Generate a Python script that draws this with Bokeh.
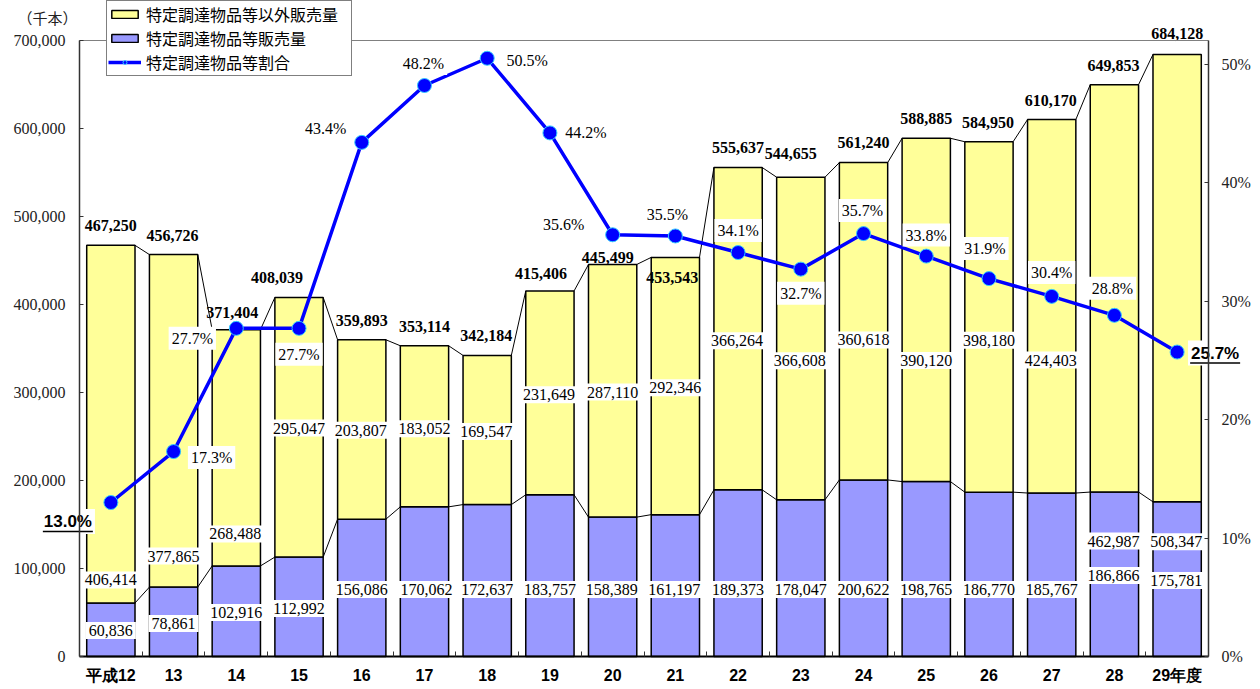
from bokeh.plotting import figure
from bokeh.models import (ColumnDataSource, Range1d, LinearAxis, FixedTicker, Legend, LegendItem,
                          NumeralTickFormatter, PrintfTickFormatter)
from bokeh.core.properties import value
from bokeh.embed import file_html
from bokeh.resources import INLINE

# ---------------- data ----------------
categories = ["平成12", "13", "14", "15", "16", "17", "18", "19", "20", "21",
              "22", "23", "24", "25", "26", "27", "28", "29年度"]
other_sales = [406414, 377865, 268488, 295047, 203807, 183052, 169547, 231649, 287110,
               292346, 366264, 366608, 360618, 390120, 398180, 424403, 462987, 508347]
target_sales = [60836, 78861, 102916, 112992, 156086, 170062, 172637, 183757, 158389,
                161197, 189373, 178047, 200622, 198765, 186770, 185767, 186866, 175781]
totals = [467250, 456726, 371404, 408039, 359893, 353114, 342184, 415406, 445499,
          453543, 555637, 544655, 561240, 588885, 584950, 610170, 649853, 684128]
share_pct = [13.0, 17.3, 27.7, 27.7, 43.4, 48.2, 50.5, 44.2, 35.6, 35.5,
             34.1, 32.7, 35.7, 33.8, 31.9, 30.4, 28.8, 25.7]
left_ticks = [0, 100000, 200000, 300000, 400000, 500000, 600000, 700000]
right_ticks = [0, 10, 20, 30, 40, 50]
unit_label = "（千本）"
legend_labels = ["特定調達物品等以外販売量", "特定調達物品等販売量", "特定調達物品等割合"]

# ---------------- label placement (screen px offsets, up = positive) ----------------
tot_dx = [0, -1, -4, -22, 0, 0, -1, -9, -5, -3, 0, -10, 0, 0, -1, -1, -1, 0]
tot_dy = [20, 19, 17, 20, 19, 19, 20, 17, 7, -20, 20, 24, 20, 20, 19, 19, 19, 21]
oth_dx = [0, 0, -1, 0, -1, 0, -1, -1, 0, 0, -1, -1, 0, 0, 0, -1, -1, -1]
oth_dy = [23, 31, 32, 129, 89, 78, 73, 100, 125, 127, 149, 139, 140, 121, 152, 133, -49, -40]
tgt_dx = [0, 0, 0, 0, 0, 2, 0, 0, -1, -1, 0, 0, 0, 0, 0, 0, -1, -1]
tgt_dy = [26, 33, 44, 48, 67, 67, 67, 67, 67, 67, 67, 67, 67, 67, 67, 67, 81, 76]
pct_dx = [-43, 38, -44, 0, -36, -1, 40, 36, -49, -8, 0, 0, -1, 0, -4, 0, -2, 38]
pct_dy = [-19, -6, -10, -26, 14, 22, -2, 0, 10, 21, 22, -24, 23, 21, 30, 24, 27, -1]

YELLOW = "#FFFF99"
BLUE = "#9999FF"
LINE = "#0000FF"
W = 0.77
N = len(categories)
xs = list(range(N))

# ---------------- layout geometry (pixels) ----------------
CW, CH = 1260, 689
FL, FR, FT, FB = 79, 1208, 40, 656          # plot-area edges inside the canvas
LMAX = left_ticks[-1]
PMAX = 52.0
px_x = (FR - FL) / N                        # px per category
px_y = (FB - FT) / LMAX                     # px per unit (left)
px_p = (FB - FT) / PMAX                     # px per percent (right)
x_lo = -0.5 - FL / px_x
x_hi = N - 0.5 + (CW - FR) / px_x
y_lo = -(CH - FB) / px_y
y_hi = LMAX + FT / px_y
p_lo = -(CH - FB) / px_p
p_hi = PMAX + FT / px_p

fmt = lambda v: f"{v:,}"
neg = lambda a: [-v for v in a]

src = ColumnDataSource(dict(
    x=xs, other=other_sales, target=target_sales, total=totals, pct=share_pct,
    zero=[0] * N,
    tot_txt=[fmt(v) for v in totals], oth_txt=[fmt(v) for v in other_sales],
    tgt_txt=[fmt(v) for v in target_sales], pct_txt=[f"{v:.1f}%" for v in share_pct],
    tot_dx=tot_dx, tot_dy=neg(tot_dy), oth_dx=oth_dx, oth_dy=neg(oth_dy),
    tgt_dx=tgt_dx, tgt_dy=neg(tgt_dy), pct_dx=pct_dx, pct_dy=neg(pct_dy),
))

p = figure(width=CW, height=CH, output_backend="svg", toolbar_location=None,
           x_range=Range1d(x_lo, x_hi), y_range=Range1d(y_lo, y_hi),
           x_axis_location=None, y_axis_location=None,
           min_border=0, min_border_left=0, min_border_right=0,
           min_border_top=0, min_border_bottom=0)
p.title.visible = False
p.extra_y_ranges = {"pct": Range1d(p_lo, p_hi)}
p.xgrid.visible = False
p.ygrid.visible = False
p.outline_line_color = None
p.background_fill_color = "white"
p.border_fill_color = "white"

SERIF = "Liberation Serif"
SANS = "Liberation Sans"
CJK = "Noto Sans CJK JP"

# top frame line (an unlabeled axis)
ta = LinearAxis(fixed_location=LMAX, bounds=(-0.5, N - 0.5), ticker=FixedTicker(ticks=[]))
ta.axis_line_color = "#808080"
ta.axis_line_width = 1
ta.major_tick_line_color = None
ta.minor_tick_line_color = None
ta.major_label_text_font_size = "0px"
p.add_layout(ta, "above")

# left axis
ya = LinearAxis(fixed_location=-0.5, bounds=(0, LMAX), ticker=FixedTicker(ticks=left_ticks),
                formatter=NumeralTickFormatter(format="0,0"))
ya.major_tick_in = 4
ya.major_tick_out = 0
ya.minor_tick_line_color = None
ya.axis_line_color = "#333333"
ya.axis_line_width = 1.5
ya.major_tick_line_color = "#333333"
ya.major_label_text_font = SERIF
ya.major_label_text_font_size = "16px"
ya.major_label_text_color = "#222222"
ya.major_label_standoff = 14
p.add_layout(ya, "left")

# right axis
ra = LinearAxis(y_range_name="pct", fixed_location=N - 0.5, bounds=(0, PMAX),
                ticker=FixedTicker(ticks=right_ticks), formatter=PrintfTickFormatter(format="%d%%"))
ra.major_tick_in = 4
ra.major_tick_out = 0
ra.minor_tick_line_color = None
ra.axis_line_color = "#333333"
ra.axis_line_width = 1.5
ra.major_tick_line_color = "#333333"
ra.major_label_text_font = SERIF
ra.major_label_text_font_size = "16px"
ra.major_label_text_color = "#222222"
ra.major_label_standoff = 13
p.add_layout(ra, "right")

# bottom axis
xa = LinearAxis(fixed_location=0, bounds=(-0.5, N - 0.5),
                ticker=FixedTicker(ticks=xs, minor_ticks=[i + 0.5 for i in range(N - 1)]))
xa.major_label_overrides = {i: c for i, c in enumerate(categories)}
xa.major_tick_in = 0
xa.major_tick_out = 0
xa.minor_tick_in = 5
xa.minor_tick_out = 0
xa.minor_tick_line_color = "#333333"
xa.axis_line_color = "black"
xa.axis_line_width = 2
xa.major_label_text_font = SANS
xa.major_label_text_font_style = "bold"
xa.major_label_text_font_size = "16px"
xa.major_label_text_color = "black"
xa.major_label_standoff = 10
p.add_layout(xa, "below")

# bars
bars = p.vbar_stack(["target", "other"], x="x", width=W, color=[BLUE, YELLOW],
                    line_color="black", line_width=1.5, source=src)

# connector lines between bars
cx0 = [i + W / 2 for i in xs[:-1]]
cx1 = [i + 1 - W / 2 for i in xs[:-1]]
p.segment(x0=cx0, y0=totals[:-1], x1=cx1, y1=totals[1:], line_color="black", line_width=1)
p.segment(x0=cx0, y0=target_sales[:-1], x1=cx1, y1=target_sales[1:], line_color="black", line_width=1)

# share line
ln = p.line("x", "pct", source=src, y_range_name="pct", line_color=LINE, line_width=3.5)
sc = p.scatter("x", "pct", source=src, y_range_name="pct", size=14, fill_color=LINE,
               line_color="#33CCFF", line_width=1)

# value labels
common = dict(source=src, text_align="center", text_baseline="middle",
              text_color="black", text_font=value(SERIF), text_font_size="16px")
p.text(x="x", y="target", text="oth_txt", x_offset="oth_dx", y_offset="oth_dy",
       background_fill_color="white", padding=3, **common)
p.text(x="x", y="zero", text="tgt_txt", x_offset="tgt_dx", y_offset="tgt_dy",
       background_fill_color="white", padding=3, **common)
p.text(x="x", y="total", text="tot_txt", x_offset="tot_dx", y_offset="tot_dy",
       text_font_style="bold", **common)

mid = list(range(1, N - 1))
psrc = ColumnDataSource({k: [src.data[k][i] for i in mid]
                         for k in ["x", "pct", "pct_txt", "pct_dx", "pct_dy"]})
p.text(x="x", y="pct", text="pct_txt", x_offset="pct_dx", y_offset="pct_dy",
       y_range_name="pct", source=psrc, text_align="center", text_baseline="middle",
       text_color="black", text_font=value(SERIF), text_font_size="16px",
       background_fill_color="white", padding=3)

# emphasised first / last share labels (bold, underlined)
ends = [0, N - 1]
esrc = ColumnDataSource(dict(
    x=[xs[i] for i in ends], pct=[share_pct[i] for i in ends],
    txt=[f"{share_pct[i]:.1f}%" for i in ends],
    dx=[pct_dx[i] for i in ends], dy=[-pct_dy[i] for i in ends],
    ux0=[xs[i] + (pct_dx[i] - 25) / px_x for i in ends],
    ux1=[xs[i] + (pct_dx[i] + 25) / px_x for i in ends],
    uy=[share_pct[i] + (pct_dy[i] - 10) / px_p for i in ends],
))
p.text(x="x", y="pct", text="txt", x_offset="dx", y_offset="dy", y_range_name="pct",
       source=esrc, text_align="center", text_baseline="middle", text_color="black",
       text_font=value(SANS), text_font_style="bold", text_font_size="17px",
       background_fill_color="white", padding=3)
p.segment(x0="ux0", y0="uy", x1="ux1", y1="uy", y_range_name="pct", source=esrc,
          line_color="black", line_width=1.5)

# unit label
p.text(x=[-0.5], y=[LMAX], text=[unit_label], x_offset=-32, y_offset=-23,
       text_align="center", text_baseline="middle", text_font=value(CJK),
       text_font_size="15px", text_color="#222222")

# legend
legend = Legend(items=[LegendItem(label=legend_labels[0], renderers=[bars[1]]),
                       LegendItem(label=legend_labels[1], renderers=[bars[0]]),
                       LegendItem(label=legend_labels[2], renderers=[ln, sc])],
                location=(106, CH - 76), orientation="vertical")
legend.label_text_font = CJK
legend.label_text_font_size = "16px"
legend.label_text_color = "black"
legend.glyph_width = 33
legend.glyph_height = 10
legend.label_height = 20
legend.label_width = 204
legend.label_standoff = 5
legend.spacing = 0
legend.padding = 1
legend.margin = 0
legend.border_line_color = "black"
legend.border_line_width = 1
legend.background_fill_color = "white"
legend.background_fill_alpha = 1
p.add_layout(legend)

open("out.html", "w").write(file_html(p, INLINE))
